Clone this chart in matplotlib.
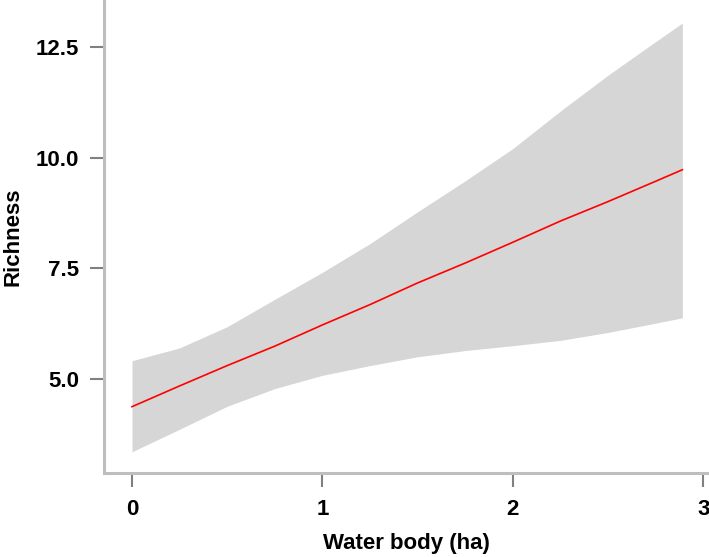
import matplotlib
matplotlib.use("Agg")
import matplotlib.pyplot as plt

# valores
water_body = [0.0, 0.25, 0.5, 0.75, 1.0, 1.25, 1.5, 1.75, 2.0, 2.25, 2.5, 2.75, 2.89]
richness_fit = [4.37, 4.84, 5.30, 5.74, 6.22, 6.68, 7.17, 7.62, 8.09, 8.57, 9.01, 9.47, 9.73]
ci_lower = [3.35, 3.86, 4.38, 4.78, 5.08, 5.30, 5.50, 5.64, 5.75, 5.87, 6.05, 6.26, 6.38]
ci_upper = [5.41, 5.70, 6.18, 6.80, 7.41, 8.06, 8.78, 9.48, 10.21, 11.06, 11.87, 12.63, 13.05]

xticks = [0, 1, 2, 3]
yticks = [5.0, 7.5, 10.0, 12.5]
ytick_labels = ["5.0", "7.5", "10.0", "12.5"]

plt.rcParams['font.family'] = ['Liberation Sans', 'DejaVu Sans']
plt.rcParams['font.weight'] = 'bold'

fig = plt.figure(figsize=(7.09, 5.57), dpi=100)
ax = fig.add_axes([0.1467, 0.1508, 0.8533, 0.8492])

ax.fill_between(water_body, ci_lower, ci_upper, color="#d6d6d6", linewidth=0)
ax.plot(water_body, richness_fit, '-', color="#ff0000", linewidth=1.2)

ax.set_xlim(-0.147, 3.03)
ax.set_ylim(2.87, 13.57)
ax.set_xticks(xticks)
ax.set_yticks(yticks)
ax.set_yticklabels(ytick_labels)

for s in ['top', 'right']:
    ax.spines[s].set_visible(False)
for s in ['left', 'bottom']:
    ax.spines[s].set_color("#bebebe")
    ax.spines[s].set_linewidth(2.2)

ax.tick_params(axis='both', length=10, width=1.5, color="#808080",
               labelsize=16, labelcolor="black")
ax.tick_params(axis='y', pad=8)
ax.tick_params(axis='x', pad=9)

ax.set_xlabel("Water body (ha)", fontsize=16, fontweight='bold', labelpad=9)
ax.set_ylabel("Richness", fontsize=16, fontweight='bold', labelpad=9)

plt.savefig("out.png", dpi=100)
